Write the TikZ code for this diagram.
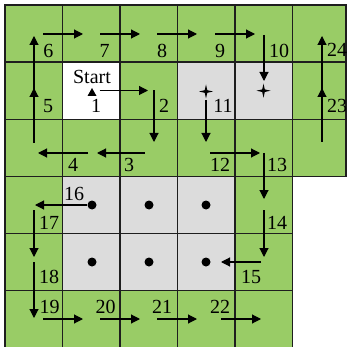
\documentclass[tikz,border=0pt]{standalone}
\usepackage{fontspec}
\setmainfont{Liberation Serif}
\usetikzlibrary{arrows.meta}
\definecolor{cellgreen}{RGB}{153,204,102}
\definecolor{cellgray}{RGB}{220,220,220}
\definecolor{gridline}{RGB}{30,30,30}
\tikzset{
  lbl/.style={font=\fontsize{20}{24}\selectfont, anchor=base, inner sep=0pt},
  mv/.style={-{Triangle[length=9pt,width=9pt]}, line width=1.1pt, black},
  cellbox/.style={draw=gridline, line width=1.2pt},
  dotmark/.style={circle, fill=black, inner sep=0pt, minimum size=9pt},
}
\begin{document}
\begin{tikzpicture}[x=1pt,y=-1pt]
\useasboundingbox (0,0) rectangle (347,347);
\clip (0,0) rectangle (347,347);
% cells
\foreach \c/\r/\col in {0/0/cellgreen,1/0/cellgreen,2/0/cellgreen,3/0/cellgreen,4/0/cellgreen,
  0/1/cellgreen,1/1/white,2/1/cellgreen,3/1/cellgray,4/1/cellgray,
  0/2/cellgreen,1/2/cellgreen,2/2/cellgreen,3/2/cellgreen,4/2/cellgreen,
  0/3/cellgreen,1/3/cellgray,2/3/cellgray,3/3/cellgray,4/3/cellgreen,
  0/4/cellgreen,1/4/cellgray,2/4/cellgray,3/4/cellgray,4/4/cellgreen,
  0/5/cellgreen,1/5/cellgreen,2/5/cellgreen,3/5/cellgreen,4/5/cellgreen}
  {\filldraw[cellbox, fill=\col] ({5+57.5*\c},{5+57.1*\r}) rectangle ++(57.5,57.1);}
\foreach \r in {0,1,2}
  {\filldraw[cellbox, fill=cellgreen] (292.5,{5+57.1*\r}) rectangle ++(53.5,57.1);}
\draw[gridline, line width=1.6pt] (5,360) -- (5,5) -- (346,5) -- (346,176.3);
% stars
\coordinate (sa) at (206,91.5);
\coordinate (sb) at (263.5,90.7);
\foreach \n in {sa,sb}
  {\fill[black] (\n) ++(0,-7) -- ++(1.3,5.7) -- ++(5.7,1.3) -- ++(-5.7,1.3) -- ++(-1.3,5.7)
      -- ++(-1.3,-5.7) -- ++(-5.7,-1.3) -- ++(5.7,-1.3) -- cycle;}
% dots
\foreach \x/\y/\n in {92/205/d1,149/205/d2,206/205/d3,92/262/d4,149/262/d5,206/262/d6}
  {\node[dotmark] (\n) at (\x,\y) {};}
% start triangle
\coordinate (st) at (92,88);
\fill[black] (st) -- ++(4.5,8) -- ++(-9,0) -- cycle;
% arrows
\draw[mv] (99.5,90.5) -- (148,90.5);
\draw[mv] (154,90.5) -- (154,142);
\draw[mv] (145,153) -- (97,153);
\draw[mv] (88,153) -- (38,153);
\draw[mv] (34,143) -- (34,88);
\draw[mv] (34,99) -- (34,36);
\draw[mv] (43,34) -- (83,34);
\draw[mv] (100,34) -- (140,34);
\draw[mv] (157,34) -- (197,34);
\draw[mv] (215,34) -- (255,34);
\draw[mv] (264,35) -- (264,81);
\draw[mv] (206,100) -- (206,142);
\draw[mv] (210,153) -- (260,153);
\draw[mv] (264,153) -- (264,199);
\draw[mv] (264,210) -- (264,257);
\draw[mv] (261,262) -- (221,262);
\draw[mv] (d1) -- (35,205);
\draw[mv] (34,210) -- (34,257);
\draw[mv] (34,262) -- (34,318);
\draw[mv] (43,319) -- (83,319);
\draw[mv] (100,319) -- (140,319);
\draw[mv] (157,319) -- (197,319);
\draw[mv] (221,319) -- (261,319);
\draw[mv] (322,142) -- (322,88);
\draw[mv] (322,99) -- (322,36);
% labels
\node[lbl] (l6) at (48.3,58) {6};
\node[lbl] (l7) at (104.5,58) {7};
\node[lbl] (l8) at (162,58) {8};
\node[lbl] (l9) at (220,57.5) {9};
\node[lbl] (l10) at (279,57.5) {10};
\node[lbl] (l24) at (337,57) {24};
\node[lbl] (lst) at (92,83.3) {Start};
\node[lbl] (l5) at (48,113) {5};
\node[lbl] (l1) at (96,113) {1};
\node[lbl] (l2) at (164,113) {2};
\node[lbl] (l11) at (223,113) {11};
\node[lbl] (l23) at (337,113) {23};
\node[lbl] (l4) at (73,171.5) {4};
\node[lbl] (l3) at (129,171.5) {3};
\node[lbl] (l12) at (220,171.5) {12};
\node[lbl] (l13) at (277,171.5) {13};
\node[lbl] (l16) at (74,200.5) {16};
\node[lbl] (l17) at (49,229) {17};
\node[lbl] (l14) at (277,229) {14};
\node[lbl] (l18) at (49,283.3) {18};
\node[lbl] (l15) at (251,283.3) {15};
\node[lbl] (l19) at (49.5,313.3) {19};
\node[lbl] (l20) at (105.5,313.3) {20};
\node[lbl] (l21) at (162,313.3) {21};
\node[lbl] (l22) at (220,313.3) {22};
\end{tikzpicture}
\end{document}
